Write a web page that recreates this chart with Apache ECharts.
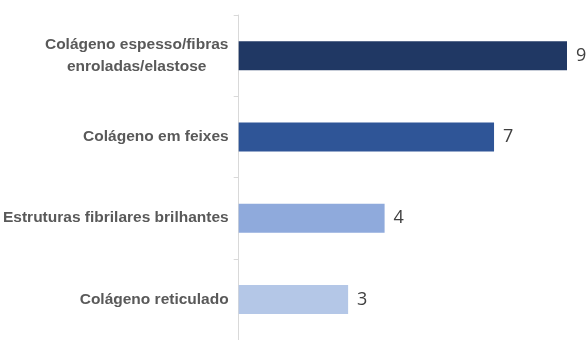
<!DOCTYPE html>
<html>
<head>
<meta charset="utf-8">
<script src="https://cdn.jsdelivr.net/npm/echarts@6/dist/echarts.min.js"></script>
<style>html,body{margin:0;padding:0;background:#fff;}#c{width:588px;height:340px;}</style>
</head>
<body>
<div id="c"></div>
<script>
var categories = ['Colágeno espesso/fibras\nenroladas/elastose', 'Colágeno em feixes', 'Estruturas fibrilares brilhantes', 'Colágeno reticulado'];
var values = [9, 7, 4, 3];
var colors = ['#203864', '#2F5597', '#8FAADC', '#B4C7E7'];

var chart = echarts.init(document.getElementById('c'));
chart.setOption({
  animation: false,
  grid: {left: 238, top: 15, width: 329, height: 330, containLabel: false},
  xAxis: {type: 'value', min: 0, max: 9, show: false},
  yAxis: {
    type: 'category', inverse: true, data: categories,
    axisLine: {show: true, lineStyle: {color: '#d9d9d9', width: 1}},
    axisTick: {show: true, length: 5, lineStyle: {color: '#d9d9d9'}},
    axisLabel: {
      margin: 10, color: '#595959', fontFamily: 'Liberation Sans', fontWeight: 'bold', fontSize: 15.5, lineHeight: 22, align: 'right',
      formatter: function (v) {
        if (v.indexOf('\n') >= 0) {
          return v.split('\n').map(function (s) { return '{c|' + s + '}'; }).join('\n');
        }
        return v;
      },
      rich: {c: {width: 184, align: 'center', color: '#595959', fontFamily: 'Liberation Sans', fontWeight: 'bold', fontSize: 15.5, lineHeight: 22}}
    }
  },
  series: [{
    type: 'bar', barWidth: 29,
    data: values.map(function (v, i) { return {value: v, itemStyle: {color: colors[i]}}; }),
    label: {show: true, position: 'right', distance: 9, color: '#404040', fontFamily: 'Open Sans', fontSize: 18}
  }]
});
</script>
</body>
</html>
